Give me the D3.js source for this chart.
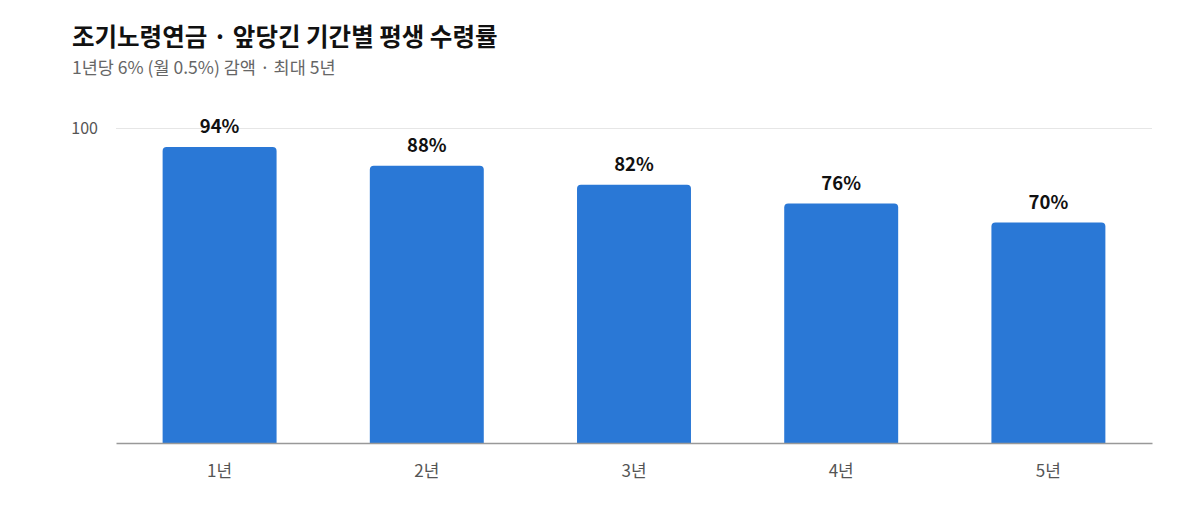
<!DOCTYPE html>
<html>
<head>
<meta charset="utf-8">
<script src="https://cdn.jsdelivr.net/npm/d3@7"></script>
<style>
  body { margin: 0; background: #fff; }
  svg { font-family: 'Noto Sans CJK KR', 'Noto Sans', sans-serif; }
</style>
</head>
<body>
<div class="chart"></div>
<script>
const width = 1200,
  height = 528,
  plotLeft = 116,
  plotRight = 1152,
  plotTop = 128,
  plotBottom = 443,
  barColor = '#2a78d6';

const periods = ['1년', '2년', '3년', '4년', '5년'];
const rates = [94, 88, 82, 76, 70];
const yTicks = [100];

const svg = d3.select('.chart')
  .append('svg')
  .attr('width', width)
  .attr('height', height);

svg.append('text')
  .attr('x', 72)
  .attr('y', 46)
  .attr('font-size', 24.5)
  .attr('font-weight', 700)
  .attr('fill', '#111')
  .text('조기노령연금 · 앞당긴 기간별 평생 수령률');

svg.append('text')
  .attr('x', 72)
  .attr('y', 74)
  .attr('font-size', 17.5)
  .attr('fill', '#666')
  .text('1년당 6% (월 0.5%) 감액 · 최대 5년');

const xScale = d3.scaleBand()
  .domain(periods)
  .range([plotLeft, plotRight])
  .paddingInner(0.45)
  .paddingOuter(0.225);

const yScale = d3.scaleLinear()
  .domain([0, 100])
  .range([plotBottom, plotTop]);

// grid + y labels
const yAxis = svg.append('g')
  .attr('transform', `translate(${plotLeft}, 0)`)
  .call(d3.axisLeft(yScale).tickValues(yTicks).tickSize(-(plotRight - plotLeft)).tickPadding(18));
yAxis.select('.domain').remove();
yAxis.selectAll('line').attr('stroke', '#e6e6e6');
yAxis.selectAll('text')
  .attr('fill', '#555')
  .style('font-size', '16px')
  .style('font-family', "'Noto Sans CJK KR', 'Noto Sans', sans-serif");

// bars with rounded top corners
const r = 4;
svg.selectAll('.bar')
  .data(rates)
  .enter()
  .append('path')
  .attr('fill', barColor)
  .attr('d', (d, i) => {
    const x0 = xScale(periods[i]), x1 = x0 + xScale.bandwidth();
    const y0 = yScale(d), y1 = yScale(0);
    return `M${x0},${y1}V${y0 + r}Q${x0},${y0} ${x0 + r},${y0}H${x1 - r}Q${x1},${y0} ${x1},${y0 + r}V${y1}Z`;
  });

svg.selectAll('.val')
  .data(rates)
  .enter()
  .append('text')
  .attr('x', (d, i) => xScale(periods[i]) + xScale.bandwidth() / 2)
  .attr('y', d => yScale(d) - 14)
  .attr('text-anchor', 'middle')
  .attr('font-size', 18.5)
  .attr('font-weight', 700)
  .attr('fill', '#111')
  .text(d => d + '%');

// x axis
const xAxis = svg.append('g')
  .attr('transform', `translate(0, ${plotBottom})`)
  .call(d3.axisBottom(xScale).tickSize(0).tickPadding(22));
xAxis.select('.domain').attr('stroke', '#999').attr('stroke-width', 1.5);
xAxis.selectAll('text')
  .attr('fill', '#555')
  .style('font-size', '17px')
  .style('font-family', "'Noto Sans CJK KR', 'Noto Sans', sans-serif");
</script>
</body>
</html>
